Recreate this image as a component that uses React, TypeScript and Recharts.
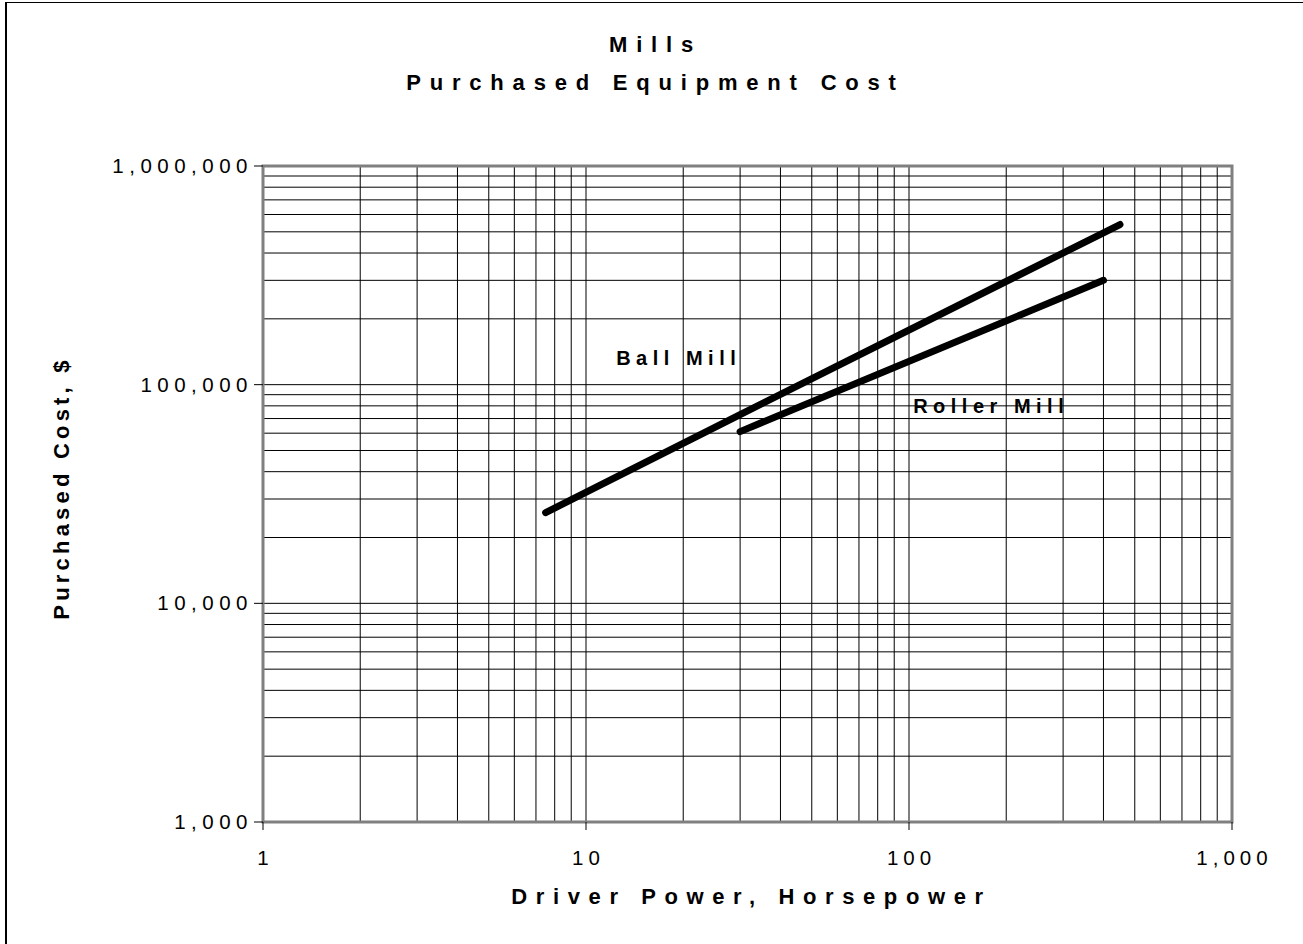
import {
  LineChart, Line, XAxis, YAxis, CartesianGrid, ReferenceArea, ReferenceDot,
} from "recharts";

const FONT = '"Liberation Sans", Arial, sans-serif';

// axis ticks (every decade step gets a gridline, only the decades get a label)
const xTicks = [1, 2, 3, 4, 5, 6, 7, 8, 9, 10, 20, 30, 40, 50, 60, 70, 80, 90, 100,
  200, 300, 400, 500, 600, 700, 800, 900, 1000];
const yTicks = [1000, 2000, 3000, 4000, 5000, 6000, 7000, 8000, 9000, 10000,
  20000, 30000, 40000, 50000, 60000, 70000, 80000, 90000, 100000,
  200000, 300000, 400000, 500000, 600000, 700000, 800000, 900000, 1000000];
const majorX = [1, 10, 100, 1000];
const majorY = [1000, 10000, 100000, 1000000];

// curves
const ballPower = [7.5, 30, 450];
const ballCost = [26000, 73000, 540000];
const rollerPower = [30, 400];
const rollerCost = [61000, 300000];

const ballData = ballPower.map((p, i) => ({ power: p, cost: ballCost[i] }));
const rollerData = rollerPower.map((p, i) => ({ power: p, cost: rollerCost[i] }));

const fmt = (v: number) => v.toLocaleString("en-US");

function XTick({ x, y, payload }: any) {
  if (!majorX.includes(payload.value)) return null;
  return (
    <g>
      <line x1={x} x2={x} y1={y - 8} y2={y} stroke="#000" strokeWidth={1} />
      <text x={x + 2.5} y={y} dy={35} textAnchor="middle" fontFamily={FONT} fontSize={20.5}
        letterSpacing={5} fill="#000">{fmt(payload.value)}</text>
    </g>
  );
}

function YTick({ x, y, payload }: any) {
  if (!majorY.includes(payload.value)) return null;
  return (
    <g>
      <line x1={x} x2={x + 9} y1={y} y2={y} stroke="#000" strokeWidth={1} />
      <text x={x - 1} y={y} dy={7} textAnchor="end" fontFamily={FONT} fontSize={20.5}
        letterSpacing={5.5} fill="#000">{fmt(payload.value)}</text>
    </g>
  );
}

function curveLabel(text: string) {
  return ({ viewBox }: any) => (
    <text x={viewBox.x} y={viewBox.y} dy={7} fontFamily={FONT} fontSize={20} fontWeight={700}
      letterSpacing={5.5} fill="#000">{text}</text>
  );
}

export default function App() {
  return (
    <div style={{ position: "absolute", left: 0, top: 0, width: 1303, height: 944,
      overflow: "hidden", background: "#fff", fontFamily: FONT }}>
      <div style={{ position: "absolute", left: 5, top: 2, width: 1400, height: 1000,
        borderLeft: "2px solid #000", borderTop: "1px solid #000" }} />

      <div style={{ position: "absolute", left: 4, width: 1303, top: 26, textAlign: "center",
        fontWeight: 700, fontSize: 22, letterSpacing: 8.8, lineHeight: "38px", color: "#000" }}>
        <div>Mills</div>
        <div>Purchased Equipment Cost</div>
      </div>

      <div style={{ position: "absolute", left: 267, width: 969, top: 883, textAlign: "center",
        fontWeight: 700, fontSize: 22, letterSpacing: 8.6, lineHeight: "28px", color: "#000" }}>
        Driver Power, Horsepower
      </div>

      <div style={{ position: "absolute", left: 62, top: 488, width: 0, height: 0 }}>
        <div style={{ position: "absolute", left: -200, top: -14, width: 400, textAlign: "center",
          transform: "rotate(-90deg)", fontWeight: 700, fontSize: 22, letterSpacing: 4.2,
          lineHeight: "28px", color: "#000" }}>
          Purchased Cost, $
        </div>
      </div>

      <div style={{ position: "absolute", left: 0, top: 0 }}>
        <LineChart width={1303} height={944}
          margin={{ top: 166, right: 71, bottom: 62, left: 163 }}>
          <CartesianGrid stroke="#000" strokeWidth={1} />
          <XAxis dataKey="power" type="number" scale="log" domain={[1, 1000]}
            ticks={xTicks} interval={0} allowDataOverflow height={60}
            axisLine={false} tickLine={false} tickSize={8} tickMargin={0} tick={<XTick />} />
          <YAxis type="number" scale="log" domain={[1000, 1000000]}
            ticks={yTicks} interval={0} allowDataOverflow width={100}
            axisLine={false} tickLine={false} tickSize={9} tickMargin={0} tick={<YTick />} />
          <ReferenceArea x1={1} x2={1000} y1={1000} y2={1000000}
            fill="none" fillOpacity={0} stroke="#808080" strokeWidth={3} />
          <Line data={ballData} dataKey="cost" type="linear" stroke="#000" strokeWidth={7}
            strokeLinecap="round" dot={false} isAnimationActive={false} />
          <Line data={rollerData} dataKey="cost" type="linear" stroke="#000" strokeWidth={7}
            strokeLinecap="round" dot={false} isAnimationActive={false} />
          <ReferenceDot x={12.4} y={132000} r={0} fill="none" stroke="none"
            label={curveLabel("Ball Mill")} />
          <ReferenceDot x={103} y={79800} r={0} fill="none" stroke="none"
            label={curveLabel("Roller Mill")} />
        </LineChart>
      </div>
    </div>
  );
}
